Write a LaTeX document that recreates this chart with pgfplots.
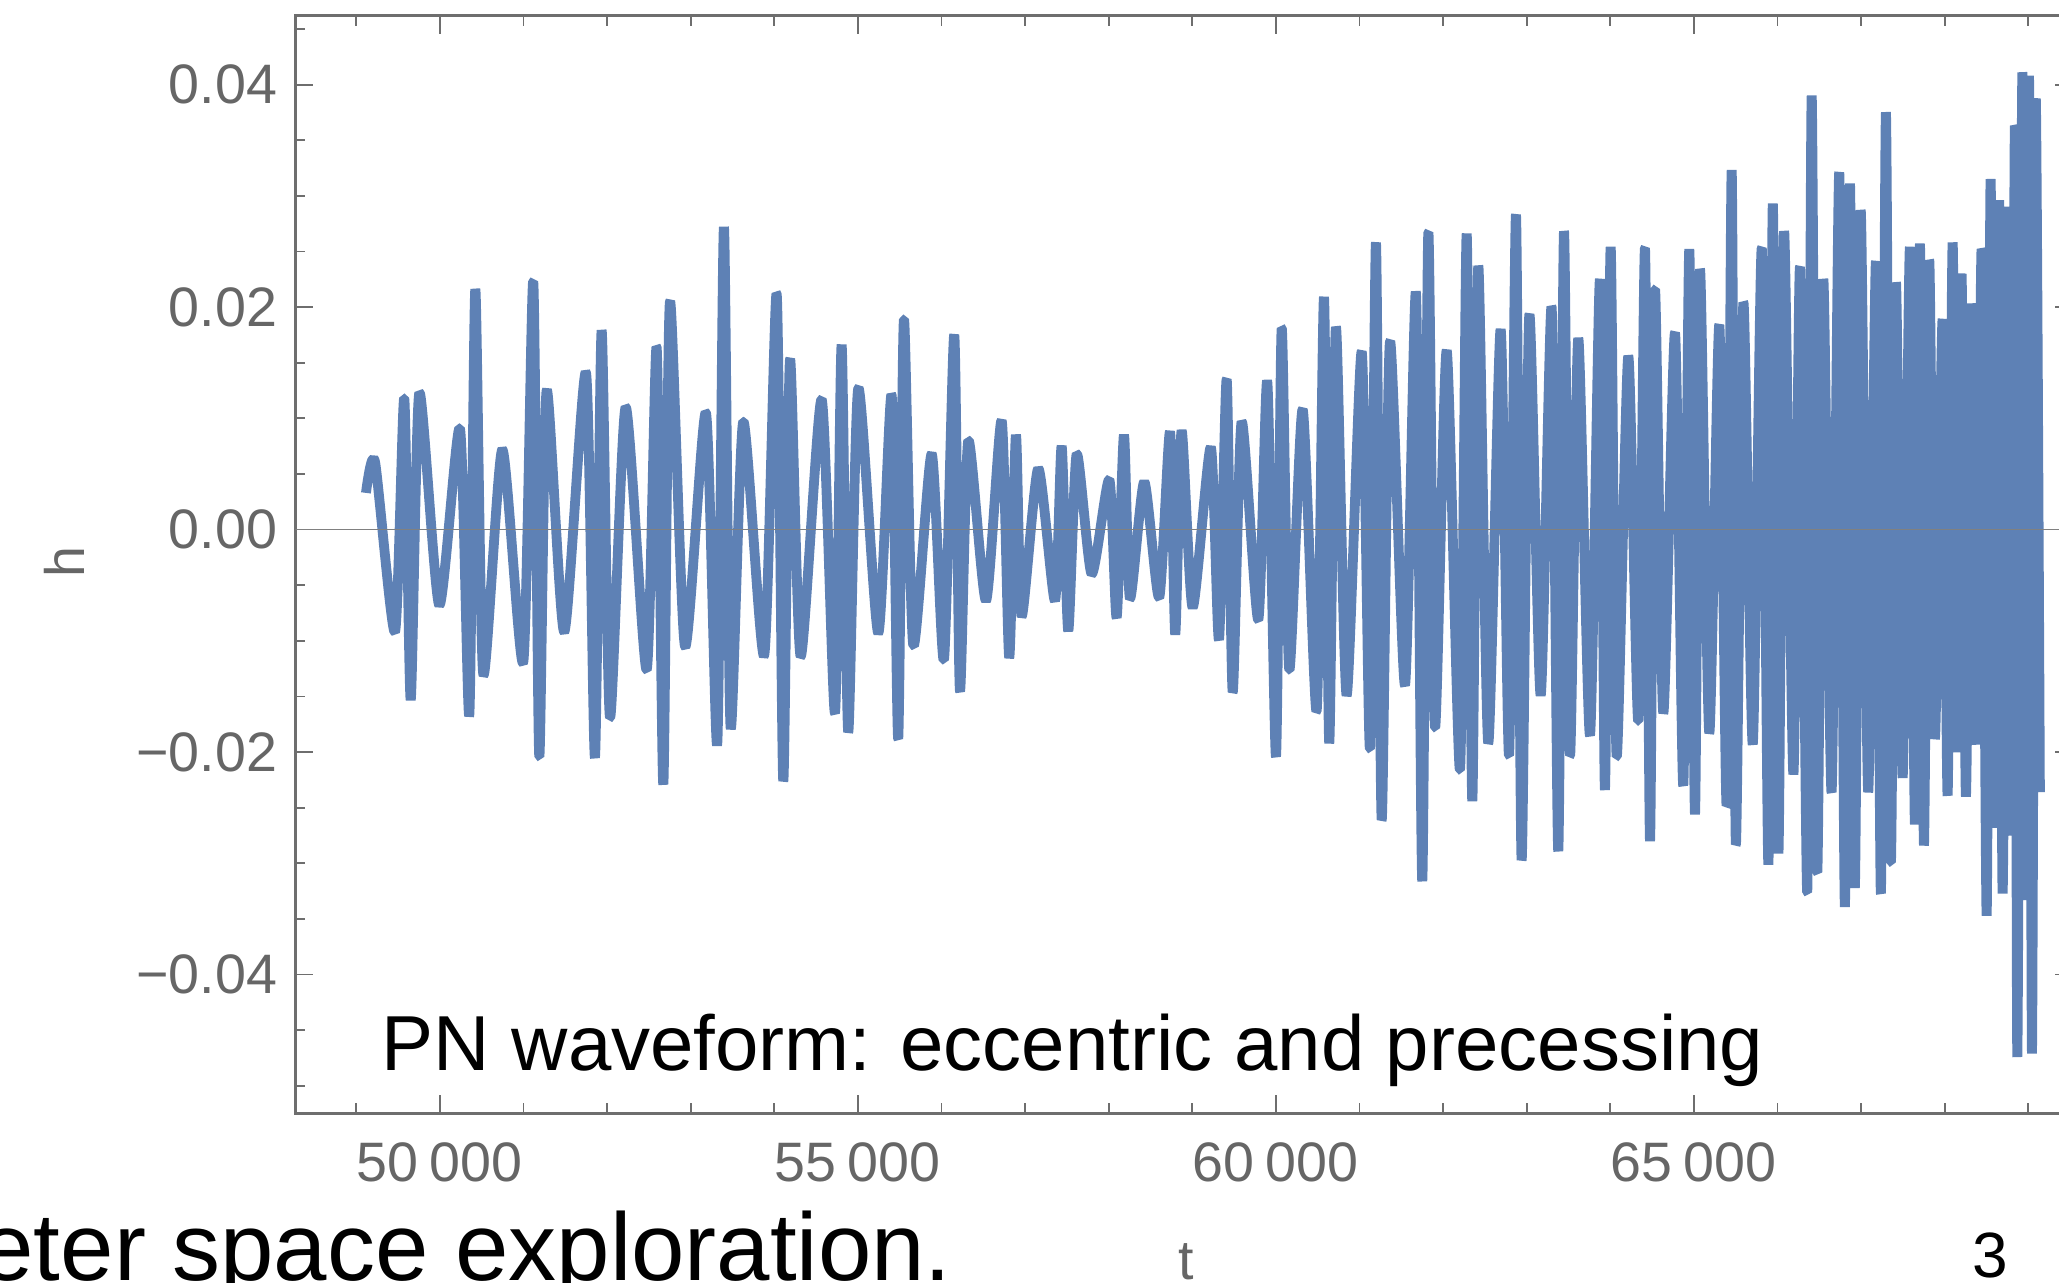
\documentclass[border=0pt]{standalone}
\usepackage{fontspec}
\setmainfont{Liberation Sans}
\usepackage{pgfplots}
\pgfplotsset{compat=1.18}
\definecolor{wave}{RGB}{94,129,181}
\definecolor{tickgray}{RGB}{102,102,102}
\definecolor{framegray}{RGB}{110,110,110}
\definecolor{zerogray}{RGB}{128,128,128}
\begin{document}
\begin{tikzpicture}
\begin{axis}[
  at={(0,0)}, anchor=south west,
  scale only axis, width=444.375pt, height=274.425pt,
  xmin=48273, xmax=69536, ymin=-0.0525, ymax=0.0462,
  axis line style={framegray, line width=0.7pt},
  xtick={50000,55000,60000,65000},
  xticklabels={50\hspace{0.2em}000, 55\hspace{0.2em}000, 60\hspace{0.2em}000, 65\hspace{0.2em}000},
  minor xtick={49000,50000,...,69000},
  ytick={-0.04,-0.02,0,0.02,0.04},
  yticklabels={−0.04,−0.02,0.00,0.02,0.04},
  minor ytick={-0.05,-0.045,-0.035,-0.03,-0.025,-0.015,-0.01,-0.005,0.005,0.01,0.015,0.025,0.03,0.035,0.045},
  major tick length=4.5pt, minor tick length=2.5pt,
  tick style={framegray, line width=0.45pt},
  tick label style={font=\fontsize{13.9pt}{16pt}\selectfont, text=tickgray, inner sep=0pt},
  xticklabel style={anchor=north, yshift=-7.1pt},
  yticklabel style={anchor=east, xshift=-4.4pt},
  scaled ticks=false,
]
\addplot[wave, line width=2.45pt, line join=bevel, smooth, tension=0.4] coordinates {
(49116,0.0033) (49224,0.0061) (49463,-0.0092) (49574,0.0118) (49651,-0.0153)
(49754,0.0123) (49993,-0.0068) (50240,0.0091) (50352,-0.0167) (50424,0.0216)
(50519,-0.0130) (50747,0.0072) (50998,-0.0119) (51117,0.0223) (51189,-0.0204)
(51277,0.0125) (51488,-0.0092) (51748,0.0141) (51855,-0.0205) (51935,0.0179)
(52035,-0.0169) (52222,0.0110) (52474,-0.0126) (52593,0.0164) (52673,-0.0229)
(52752,0.0205) (52932,-0.0105) (53183,0.0105) (53318,-0.0193) (53398,0.0272)
(53478,-0.0178) (53629,0.0097) (53880,-0.0113) (54029,0.0212) (54108,-0.0226)
(54188,0.0153) (54316,-0.0114) (54567,0.0117) (54726,-0.0165) (54806,0.0166)
(54885,-0.0182) (55005,0.0127) (55244,-0.0093) (55404,0.0121) (55483,-0.0188)
(55551,0.0189) (55663,-0.0104) (55883,0.0068) (56030,-0.0117) (56153,0.0175)
(56221,-0.0145) (56321,0.0080) (56533,-0.0064) (56720,0.0098) (56811,-0.0115)
(56891,0.0085) (56959,-0.0078) (57158,0.0055) (57358,-0.0064) (57438,0.0075)
(57517,-0.0091) (57618,0.0068) (57797,-0.0040) (58008,0.0045) (58096,-0.0079)
(58183,0.0085) (58255,-0.0062) (58426,0.0043) (58605,-0.0061) (58734,0.0088)
(58797,-0.0094) (58873,0.0089) (59005,-0.0070) (59222,0.0074) (59320,-0.0099)
(59412,0.0135) (59484,-0.0146) (59591,0.0097) (59790,-0.0081) (59898,0.0133)
(60002,-0.0204) (60070,0.0181) (60161,-0.0126) (60321,0.0108) (60488,-0.0163)
(60576,0.0209) (60639,-0.0192) (60719,0.0182) (60847,-0.0149) (61027,0.0160)
(61126,-0.0197) (61198,0.0258) (61266,-0.0261) (61365,0.0169) (61545,-0.0140)
(61676,0.0213) (61752,-0.0316) (61824,0.0267) (61904,-0.0178) (62044,0.0161)
(62203,-0.0216) (62283,0.0266) (62350,-0.0244) (62422,0.0237) (62541,-0.0192)
(62689,0.0180) (62790,-0.0203) (62873,0.0283) (62940,-0.0297) (63032,0.0193)
(63168,-0.0149) (63299,0.0200) (63379,-0.0289) (63447,0.0268) (63519,-0.0203)
(63618,0.0172) (63758,-0.0185) (63877,0.0225) (63937,-0.0234) (64005,0.0254)
(64077,-0.0204) (64216,0.0156) (64336,-0.0172) (64416,0.0253) (64476,-0.0280)
(64535,0.0216) (64635,-0.0165) (64775,0.0177) (64874,-0.0230) (64946,0.0252)
(65014,-0.0256) (65074,0.0234) (65185,-0.0183) (65305,0.0184) (65393,-0.0248)
(65453,0.0323) (65503,-0.0283) (65593,0.0204) (65705,-0.0193) (65813,0.0253)
(65892,-0.0301) (65945,0.0293) (66012,-0.0291) (66080,0.0268) (66191,-0.0220)
(66270,0.0236) (66357,-0.0326) (66410,0.0390) (66476,-0.0308) (66549,0.0225)
(66648,-0.0236) (66740,0.0321) (66807,-0.0339) (66868,0.0311) (66926,-0.0322)
(66996,0.0287) (67086,-0.0236) (67179,0.0241) (67238,-0.0327) (67298,0.0375)
(67357,-0.0299) (67418,0.0222) (67498,-0.0223) (67585,0.0254) (67645,-0.0265)
(67705,0.0257) (67753,-0.0284) (67816,0.0242) (67884,-0.0188) (67976,0.0189)
(68036,-0.0239) (68096,0.0258) (68150,-0.0200) (68203,0.0230) (68255,-0.0240)
(68323,0.0203) (68383,-0.0193) (68443,0.0252) (68503,-0.0347) (68550,0.0315)
(68600,-0.0268) (68653,0.0296) (68694,-0.0327) (68761,0.0290) (68801,-0.0275)
(68841,0.0363) (68870,-0.0474) (68930,0.0411) (68975,-0.0333) (69010,0.0408)
(69045,-0.0471) (69090,0.0387) (69140,-0.0236)
};
\draw[zerogray, line width=0.4pt] (axis cs:48273,0) -- (axis cs:69536,0);
\end{axis}
\node[anchor=base west, inner sep=0pt, font=\fontsize{19.5pt}{22pt}\selectfont] at (21.4pt,10.7pt) {PN waveform: eccentric and precessing};
\node[rotate=90, inner sep=0pt, text=tickgray, font=\fontsize{13.9pt}{16pt}\selectfont] at (-57.9pt,137.9pt) {h};
\node[anchor=base, inner sep=0pt, text=tickgray, font=\fontsize{13.9pt}{16pt}\selectfont] at (222.6pt,-41.6pt) {t};
\node[anchor=base, inner sep=0pt, font=\fontsize{16pt}{18pt}\selectfont] at (423.6pt,-41.1pt) {3};
\node[anchor=base east, inner sep=0pt, font=\fontsize{24pt}{27pt}\selectfont] at (164.3pt,-41.8pt) {parameter space exploration.};
\pgfresetboundingbox
\useasboundingbox (-73.875pt,-42.375pt) rectangle (440.875pt,278.375pt);
\end{tikzpicture}
\end{document}
